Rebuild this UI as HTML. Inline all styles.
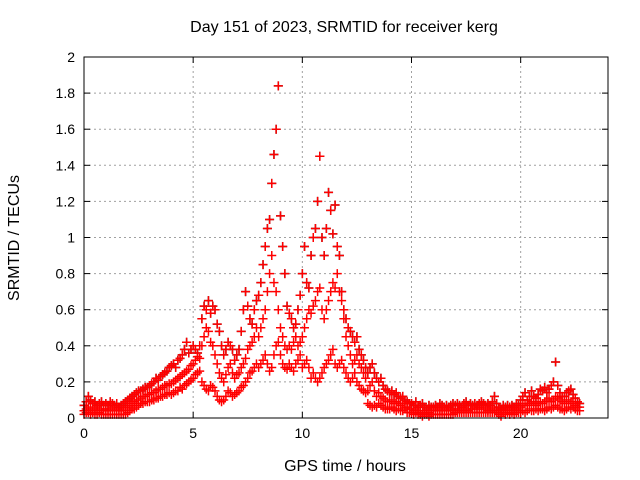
<!DOCTYPE html>
<html><head><meta charset="utf-8"><style>
body{margin:0;background:#fff}
svg{display:block;font-family:"Liberation Sans",sans-serif}
</style></head><body>
<svg id="chart" width="640" height="480" viewBox="0 0 640 480" xmlns="http://www.w3.org/2000/svg">
<rect width="640" height="480" fill="#fff"/>
<text x="344" y="32" font-size="16" text-anchor="middle">Day 151 of 2023, SRMTID for receiver kerg</text>
<text transform="translate(19,238) rotate(-90)" font-size="16" text-anchor="middle">SRMTID / TECUs</text>
<text x="345" y="471" font-size="16" text-anchor="middle">GPS time / hours</text>
<g id="grid"></g><g id="ticks"></g><g id="marks"></g>
<rect x="84" y="57" width="524" height="361" fill="none" stroke="#000" stroke-width="1"/>
</svg>
<script>
const xTicks=[0,5,10,15,20];
const yTicks=[0,0.2,0.4,0.6,0.8,1,1.2,1.4,1.6,1.8,2];
const t0=0, dt=0.1;
const lowSeries=[.02,.03,.03,.02,.03,.02,.02,.03,.02,.02, .02,.02,.02,.02,.02,.02,.02,.02,.02,.02,
.03,.04,.05,.05,.06,.07,.08,.08,.09,.09, .09,.10,.10,.11,.11,.12,.12,.13,.13,.14,
.13,.14,.15,.15,.17,.16,.18,.19,.20,.21, .22,.24,.25,.26,.20,.18,.16,.15,.18,.17,
.15,.12,.10,.09,.10,.12,.15,.14,.12,.13, .14,.15,.17,.18,.20,.22,.25,.26,.28,.30,
.28,.30,.32,.35,.30,.26,.28,.35,.40,.42, .35,.30,.28,.27,.30,.28,.26,.30,.32,.35,
.28,.30,.32,.28,.22,.25,.22,.20,.22,.25, .28,.30,.32,.35,.38,.30,.28,.30,.32,.28,
.25,.22,.20,.22,.25,.20,.18,.16,.15,.14, .08,.07,.06,.07,.06,.08,.07,.06,.05,.05,
.05,.06,.05,.04,.05,.04,.04,.05,.03,.03, .03,.02,.03,.02,.02,.01,.02,.02,.01,.02,
.02,.02,.02,.02,.02,.02,.02,.02,.02,.02, .03,.03,.03,.03,.03,.03,.03,.03,.03,.03,
.03,.03,.03,.03,.03,.03,.03,.03,.03,.03, .02,.01,.03,.02,.03,.02,.03,.02,.03,.03,
.03,.04,.03,.04,.05,.04,.04,.05,.04,.05, .05,.04,.05,.06,.05,.06,.07,.06,.05,.05,
.04,.05,.06,.05,.06,.05,.04,.04];
const midSeries=[.04,.05,.06,.05,.04,.05,.06,.05,.04,.05, .05,.04,.05,.06,.05,.04,.05,.04,.05,.06,
.06,.07,.08,.09,.10,.10,.11,.12,.12,.13, .13,.14,.14,.15,.16,.16,.17,.18,.18,.19,
.19,.20,.21,.22,.23,.24,.25,.26,.27,.29, .30,.32,.34,.33,.40,.45,.50,.48,.42,.40,
.35,.30,.25,.22,.20,.24,.28,.30,.25,.22, .24,.25,.28,.30,.33,.38,.40,.42,.45,.50,
.45,.50,.55,.60,.70,.80,.90,.75,.70,.60, .50,.45,.40,.38,.40,.38,.42,.45,.40,.42,
.45,.50,.55,.60,.58,.62,.65,.70,.72,.60, .55,.60,.65,.70,.75,.72,.80,.70,.65,.55,
.45,.40,.35,.30,.32,.35,.30,.28,.25,.22, .15,.18,.20,.15,.12,.14,.12,.11,.10,.09,
.09,.10,.08,.09,.08,.07,.08,.06,.06,.05, .05,.04,.05,.04,.03,.04,.03,.04,.03,.04,
.04,.05,.04,.05,.04,.05,.04,.05,.05,.04, .05,.05,.04,.05,.06,.05,.04,.05,.05,.06,
.05,.06,.05,.06,.05,.04,.05,.06,.05,.04, .04,.03,.05,.04,.05,.04,.05,.04,.05,.05,
.06,.07,.08,.07,.08,.09,.08,.07,.08,.09, .08,.09,.10,.11,.09,.10,.12,.11,.10,.09,
.08,.09,.10,.09,.08,.07,.06,.06];
const highSeries=[.07,.09,.12,.10,.08,.09,.07,.08,.09,.07, .08,.07,.09,.08,.07,.08,.06,.07,.08,.09,
.10,.11,.12,.13,.14,.15,.15,.16,.17,.17, .18,.19,.20,.22,.21,.23,.24,.25,.26,.28,
.29,.30,.28,.32,.33,.35,.38,.42,.36,.38, .40,.38,.36,.40,.55,.62,.60,.65,.58,.62,
.60,.52,.48,.40,.35,.38,.42,.40,.38,.32, .35,.38,.48,.60,.70,.62,.55,.52,.60,.65,
.68,.75,.85,.95,1.05,1.10,1.30,1.46,1.60,1.84, 1.12,.95,.80,.62,.58,.55,.50,.52,.60,.68,
.80,.95,.75,.72,.90,1.00,1.05,1.20,1.45,1.00, .90,1.05,1.25,1.15,1.02,1.18,.95,.90,.70,.60,
.55,.50,.48,.45,.42,.45,.38,.35,.32,.28, .25,.28,.30,.25,.22,.20,.22,.18,.16,.15,
.14,.15,.13,.14,.12,.11,.12,.10,.09,.08, .08,.07,.09,.06,.07,.08,.06,.05,.07,.06,
.06,.07,.06,.08,.07,.06,.07,.06,.07,.08, .07,.08,.07,.06,.08,.09,.07,.08,.07,.08,
.07,.08,.09,.08,.07,.08,.07,.09,.12,.08, .06,.05,.07,.06,.07,.06,.07,.06,.08,.07,
.10,.12,.14,.10,.12,.15,.12,.11,.13,.16, .15,.17,.14,.16,.18,.20,.31,.18,.14,.12,
.12,.14,.15,.16,.13,.11,.09,.08];
const NS="http://www.w3.org/2000/svg";
const X0=84,X1=608,Y0=418,Y1=57,XMAX=24,YMAX=2;
function xs(v){return X0+(X1-X0)*v/XMAX;}
function ys(v){return Y0-(Y0-Y1)*v/YMAX;}
const grid=document.getElementById('grid'),ticks=document.getElementById('ticks'),marks=document.getElementById('marks');
function mk(tag,attrs,parent){const e=document.createElementNS(NS,tag);for(const k in attrs)e.setAttribute(k,attrs[k]);parent.appendChild(e);return e;}
yTicks.forEach(v=>{
  const y=ys(v);
  if(v>0&&v<YMAX){const g=mk('line',{x1:X0,x2:X1,y1:y,y2:y,stroke:'#a0a0a0','stroke-dasharray':'2,3'},grid);
  
  }
  mk('line',{x1:X0,x2:X0+6,y1:y,y2:y,stroke:'#000'},ticks);
  mk('line',{x1:X1,x2:X1-6,y1:y,y2:y,stroke:'#000'},ticks);
  const t=mk('text',{x:X0-9,y:y+5,'font-size':14,'text-anchor':'end'},ticks);
  t.textContent=String(v);
  
  
});
xTicks.forEach(v=>{
  const x=xs(v);
  if(v>0){const g=mk('line',{x1:x,x2:x,y1:Y0,y2:Y1,stroke:'#a0a0a0','stroke-dasharray':'2,3'},grid);
  
  }
  mk('line',{x1:x,x2:x,y1:Y0,y2:Y0-6,stroke:'#000'},ticks);
  mk('line',{x1:x,x2:x,y1:Y1,y2:Y1+6,stroke:'#000'},ticks);
  const t=mk('text',{x:x,y:Y0+20,'font-size':14,'text-anchor':'middle'},ticks);
  t.textContent=String(v);
  
  
});
function plus(x,y,color,name){
  const p=mk('path',{d:`M${x-4.5} ${y}h9M${x} ${y-4.5}v9`,stroke:color,'stroke-width':1.5,fill:'none'},marks);
  
  
}
[[highSeries,'#333'],[lowSeries,'#f00'],[midSeries,'#f00'],[highSeries,'#f00']].forEach(([arr,c],si)=>{
  arr.forEach((v,i)=>{
    const t=t0+i*dt;
    plus(xs(t),ys(v),c,'srmtid-point');
  });
});
</script>
</body></html>
